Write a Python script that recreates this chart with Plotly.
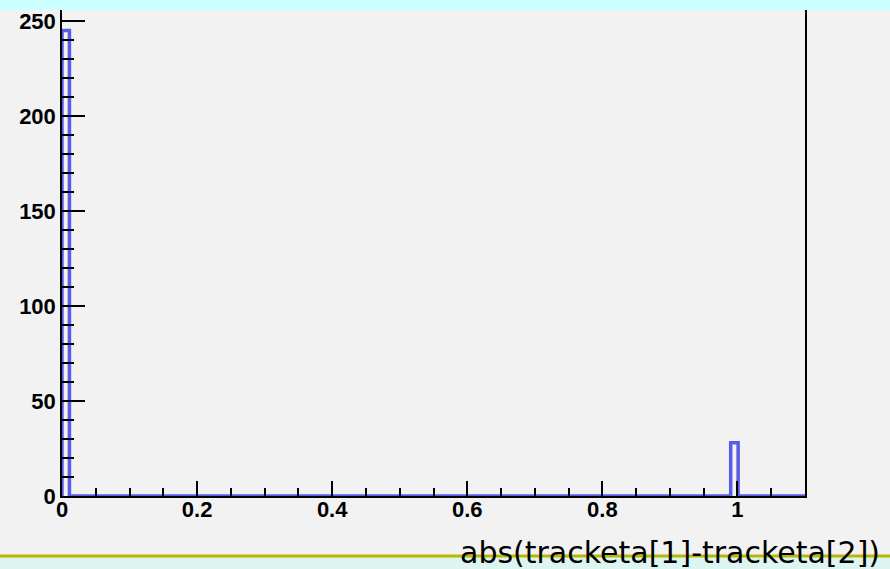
import numpy as np
import plotly.graph_objects as go

# Histogram: 100 bins from 0 to 1.1
x_min = 0.0
x_max = 1.1
n_bins = 100
counts = [245] + [0] * 89 + [28] + [0] * 9

y_tickvals = [0, 50, 100, 150, 200, 250]
y_ticktext = ["0", "50", "100", "150", "200", "250"]
x_tickvals = [0, 0.2, 0.4, 0.6, 0.8, 1.0]
x_ticktext = ["0", "0.2", "0.4", "0.6", "0.8", "1"]
x_title = "abs(tracketa[1]-tracketa[2])"

edges = np.linspace(x_min, x_max, n_bins + 1)
xs = [edges[0]] + list(edges)
ys = [0] + counts + [0]

W, H = 890, 569
L, R, T, B = 62, 85, 10, 73
plot_h = H - T - B
plot_w = W - L - R

def py(pix):
    # pixel y (from top) -> paper y
    return (H - B - pix) / plot_h

def px(pix):
    return (pix - L) / plot_w

fig = go.Figure()
fig.add_trace(go.Scatter(
    x=xs, y=ys, mode="lines", line=dict(shape="hv", color="#5b5be8", width=3.5),
    hoverinfo="skip", showlegend=False,
))

tickfont = dict(family="Liberation Sans, Arial, sans-serif", size=22, color="black", weight="bold")

fig.update_layout(
    width=W, height=H,
    margin=dict(l=L, r=R, t=T, b=B),
    paper_bgcolor="#f2f2f2",
    plot_bgcolor="#f2f2f2",
    xaxis=dict(
        range=[x_min, x_max], tickvals=x_tickvals, ticktext=x_ticktext,
        ticks="inside", ticklen=15, tickwidth=1.5, tickcolor="black",
        minor=dict(dtick=0.05, tick0=0, ticks="inside", ticklen=8, tickwidth=1.5, tickcolor="black"),
        showline=True, linecolor="black", linewidth=1.5, mirror=False,
        showgrid=False, zeroline=False, tickfont=tickfont, ticklabelstandoff=-7,
    ),
    yaxis=dict(
        range=[0, 255.8], tickvals=y_tickvals, ticktext=y_ticktext,
        ticks="inside", ticklen=23, tickwidth=1.5, tickcolor="black",
        minor=dict(dtick=10, tick0=0, ticks="inside", ticklen=12, tickwidth=1.5, tickcolor="black"),
        showline=True, linecolor="black", linewidth=1.5, mirror=True,
        showgrid=False, zeroline=False, tickfont=tickfont, ticklabelstandoff=0,
    ),
    shapes=[
        dict(type="rect", xref="paper", yref="paper", x0=px(0), x1=px(W), y0=py(-2), y1=py(T),
             fillcolor="#ccffff", line=dict(width=0), layer="above"),
        dict(type="rect", xref="paper", yref="paper", x0=px(0), x1=px(W), y0=py(557), y1=py(H + 2),
             fillcolor="#ddf5f0", line=dict(width=0), layer="above"),
        dict(type="line", xref="paper", yref="paper", x0=px(0), x1=px(W), y0=py(556), y1=py(556),
             line=dict(color="#b8b800", width=3), layer="above"),
    ],
    annotations=[
        dict(text=x_title, xref="paper", yref="paper", x=px(882), y=py(572), xanchor="right",
             yanchor="bottom", showarrow=False,
             font=dict(family="Comic Sans MS, DejaVu Sans, sans-serif", size=30, color="black")),
    ],
)

fig.write_html(
    "out.html",
    config={"displayModeBar": False},
    post_script="document.body.style.margin='0';document.body.style.overflow='hidden';",
)
